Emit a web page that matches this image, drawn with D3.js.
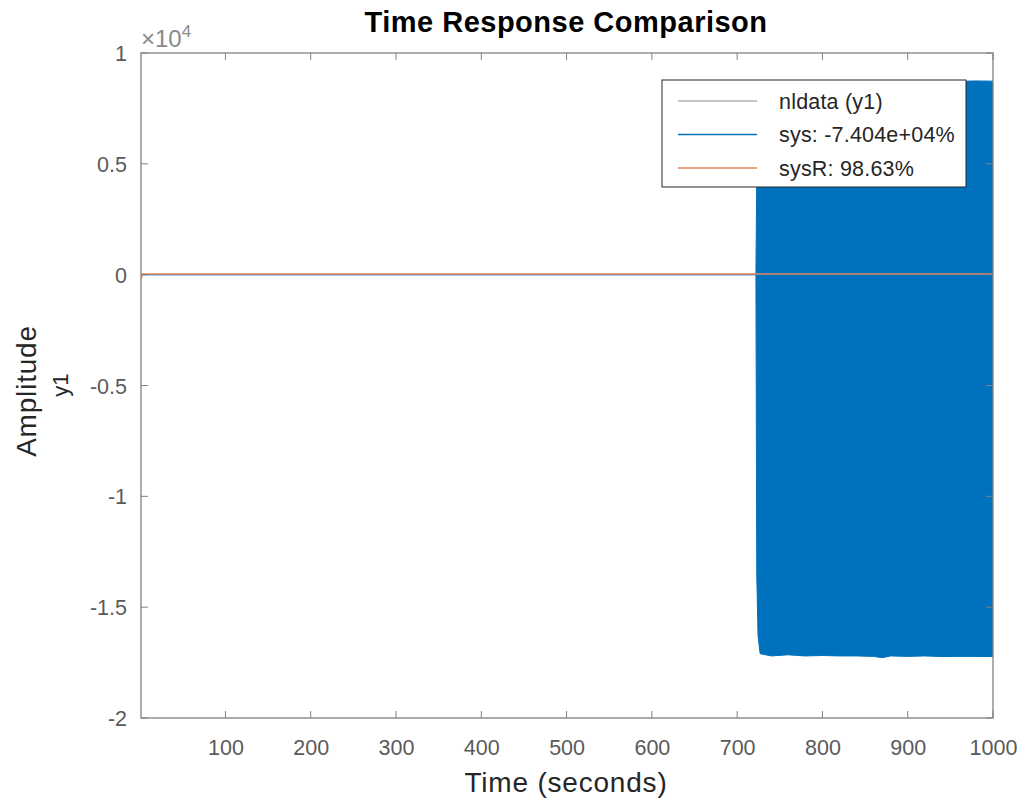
<!DOCTYPE html>
<html><head><meta charset="utf-8">
<script src="https://cdn.jsdelivr.net/npm/d3@7"></script>
<style>body{margin:0;background:#fff;font-family:"Liberation Sans",Arial,sans-serif;}</style>
</head><body>
<svg id="c" width="1026" height="801"></svg>
<script>
// ---- data (amplitudes in raw units) ----
const xTicks = [100, 200, 300, 400, 500, 600, 700, 800, 900, 1000];
const yTicks = [-20000, -15000, -10000, -5000, 0, 5000, 10000];
const yTickLabels = ["-2", "-1.5", "-1", "-0.5", "0", "0.5", "1"];
const legendLabels = ["nldata (y1)", "sys: -7.404e+04%", "sysR: 98.63%"];
// sys: oscillation envelope (upper / lower)
const sysTime  = [1, 722, 723, 724.5, 727, 740, 760, 780, 800, 820, 840, 860, 870, 880, 900, 920, 940, 960, 980, 1000];
const sysUpper = [0, 0, 4500, 8500, 8700, 8720, 8700, 8730, 8710, 8720, 8740, 8720, 8730, 8710, 8740, 8720, 8730, 8720, 8740, 8730];
const sysLower = [0, 0, -13500, -16300, -17100, -17200, -17150, -17200, -17180, -17200, -17200, -17220, -17280, -17200, -17220, -17200, -17230, -17220, -17220, -17230];
// nldata and sysR: near zero
const nlTime = [1, 1000];
const nlVal  = [0, 0];
const sysRTime = [1, 3, 1000];
const sysRVal  = [-200, 30, 30];

const svg = d3.select("#c");
const L = 141, R = 993, T = 53, B = 718;
const x = d3.scaleLinear().domain([1, 1000]).range([L, R]);
const y = d3.scaleLinear().domain([-20000, 10000]).range([B, T]);
const axisCol = "#808080", txtCol = "#5a5a5a", font = "Liberation Sans, Arial, sans-serif";

// title
svg.append("text").attr("x", 566).attr("y", 32).attr("text-anchor", "middle")
  .attr("font-size", 29).attr("font-weight", "bold").attr("letter-spacing", 0.5).attr("fill", "#000").text("Time Response Comparison");

svg.append("clipPath").attr("id", "clp").append("rect")
  .attr("x", L).attr("y", T).attr("width", R - L).attr("height", B - T);
const plot = svg.append("g").attr("clip-path", "url(#clp)");

// nldata
plot.append("path").datum(nlTime.map((t, i) => [t, nlVal[i]]))
  .attr("d", d3.line().x(d => x(d[0])).y(d => y(d[1])))
  .attr("fill", "none").attr("stroke", "#b3b3b3").attr("stroke-width", 1);

// sys envelope
const sysData = sysTime.map((t, i) => ({t, u: sysUpper[i], l: sysLower[i]}));
plot.append("path").datum(sysData)
  .attr("d", d3.area().x(d => x(d.t)).y0(d => y(d.l)).y1(d => y(d.u)))
  .attr("fill", "#0072BD").attr("stroke", "#0072BD").attr("stroke-width", 1);

// sysR
plot.append("path").datum(sysRTime.map((t, i) => [t, sysRVal[i]]))
  .attr("d", d3.line().x(d => x(d[0])).y(d => y(d[1])))
  .attr("fill", "none").attr("stroke", "#E5855C").attr("stroke-width", 1.4);

// axes
const tickLen = 7;
const gx = svg.append("g").attr("transform", `translate(0,${B})`)
  .call(d3.axisBottom(x).tickValues(xTicks).tickSize(0).tickPadding(22).tickFormat(d3.format("d")));
const gy = svg.append("g").attr("transform", `translate(${L},0)`)
  .call(d3.axisLeft(y).tickValues(yTicks).tickSize(0).tickPadding(14).tickFormat(d => yTickLabels[yTicks.indexOf(d)]));
[gx, gy].forEach(g => {
  g.select(".domain").remove();
  g.selectAll("text").attr("fill", txtCol).attr("font-size", 21.5).attr("font-family", font);
});
gy.selectAll("text").attr("dy", "0.35em");
// inward ticks (all four sides, MATLAB box style)
xTicks.forEach(v => {
  svg.append("line").attr("x1", x(v)).attr("x2", x(v)).attr("y1", B).attr("y2", B - tickLen).attr("stroke", axisCol);
  svg.append("line").attr("x1", x(v)).attr("x2", x(v)).attr("y1", T).attr("y2", T + tickLen).attr("stroke", axisCol);
});
yTicks.forEach(v => {
  svg.append("line").attr("x1", L).attr("x2", L + tickLen).attr("y1", y(v)).attr("y2", y(v)).attr("stroke", axisCol);
  svg.append("line").attr("x1", R).attr("x2", R - tickLen).attr("y1", y(v)).attr("y2", y(v)).attr("stroke", axisCol);
});
svg.append("rect").attr("x", L).attr("y", T).attr("width", R - L).attr("height", B - T)
  .attr("fill", "none").attr("stroke", axisCol).attr("stroke-width", 1.3);

// exponent label
const ex = svg.append("text").attr("x", 141).attr("y", 47).attr("fill", "#8a8a8a").attr("font-size", 24).attr("font-family", font);
ex.append("tspan").text("\u00D710");
ex.append("tspan").attr("dy", -10).attr("font-size", 17).text("4");

// axis labels
svg.append("text").attr("x", 566).attr("y", 792).attr("text-anchor", "middle")
  .attr("font-size", 28).attr("letter-spacing", 0.8).attr("fill", "#262626").text("Time (seconds)");
svg.append("text").attr("transform", `translate(36,391) rotate(-90)`).attr("text-anchor", "middle")
  .attr("font-size", 28).attr("letter-spacing", 0.8).attr("fill", "#262626").text("Amplitude");
svg.append("text").attr("transform", `translate(68,385) rotate(-90)`).attr("text-anchor", "middle")
  .attr("font-size", 22).attr("fill", "#262626").text("y1");

// legend
const lg = svg.append("g");
lg.append("rect").attr("x", 662).attr("y", 80).attr("width", 304).attr("height", 107)
  .attr("fill", "#fff").attr("stroke", "#262626").attr("stroke-width", 1);
const legCols = ["#b3b3b3", "#0072BD", "#E5855C"];
legendLabels.forEach((lab, i) => {
  const yy = 101 + i * 33.5;
  lg.append("line").attr("x1", 678).attr("x2", 757).attr("y1", yy).attr("y2", yy)
    .attr("stroke", legCols[i]).attr("stroke-width", 1.5);
  lg.append("text").attr("x", 779).attr("y", yy + 7.5).attr("font-size", 21.5).attr("letter-spacing", 0.2)
    .attr("fill", "#262626").attr("font-family", font).text(lab);
});
</script>
</body></html>
